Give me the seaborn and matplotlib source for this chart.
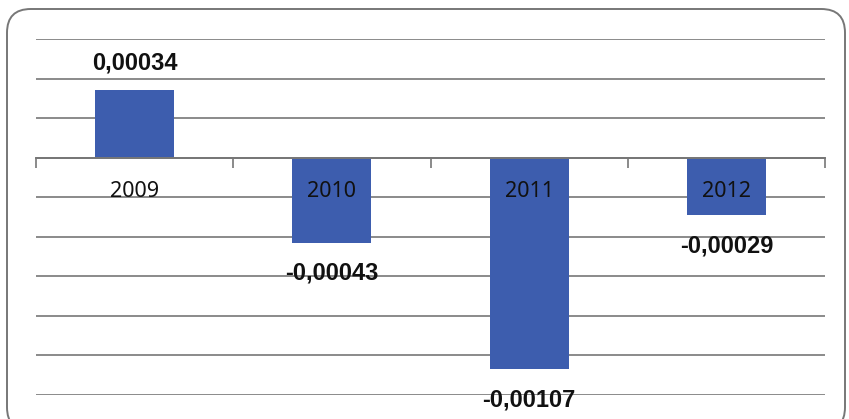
import numpy as np
import pandas as pd
import seaborn as sns
import matplotlib.pyplot as plt
from matplotlib.patches import FancyBboxPatch

# data
years = ["2009", "2010", "2011", "2012"]
values = [0.00034, -0.00043, -0.00107, -0.00029]
value_labels = ["0,00034", "-0,00043", "-0,00107", "-0,00029"]

sns.set_theme(style="white")
plt.rcParams['font.family'] = ['Noto Sans', 'DejaVu Sans']

df = pd.DataFrame({"year": years, "value": values})

fig = plt.figure(figsize=(8.49, 4.19), dpi=100)
ax = fig.add_axes([36/849, 1 - 395/419, (825 - 36)/849, (395 - 39)/419])

sns.barplot(data=df, x="year", y="value", color="#3D5DAE", width=0.4,
            saturation=1, linewidth=0, ax=ax, zorder=3)

ax.set_xlim(-0.5, 3.5)
ax.set_ylim(-0.0012, 0.0006)
ax.set_yticks(np.arange(-0.0012, 0.00061, 0.0002))
ax.yaxis.grid(True, color="#8a8a8a", linewidth=1.4)
ax.tick_params(axis="y", left=False, labelleft=False)
ax.set_xlabel("")
ax.set_ylabel("")
for s in ["top", "left", "right"]:
    ax.spines[s].set_visible(False)
ax.spines["bottom"].set_position(("data", 0))
ax.spines["bottom"].set_color("#777777")
ax.spines["bottom"].set_linewidth(1.4)
ax.spines["bottom"].set_zorder(4)

# ticks at category boundaries
ax.set_xticks(np.arange(-0.5, 3.6, 1.0))
ax.set_xticklabels([])
ax.tick_params(axis="x", which="major", direction="out", length=7, width=1.2,
               color="#777777", bottom=True)

# category labels sit just under the zero line, on top of the bars
for i, y in enumerate(years):
    ax.annotate(y, (i, 0), xytext=(0, -24), textcoords="offset points",
                ha="center", va="center", fontsize=15.5, color="#111111",
                zorder=5)

for i, (v, t) in enumerate(zip(values, value_labels)):
    off = 20 if v > 0 else -22
    ax.annotate(t, (i, v), xytext=(0, off), textcoords="offset points",
                ha="center", va="center", fontsize=17, fontweight="bold",
                family=["Liberation Sans", "DejaVu Sans"],
                color="#111111", zorder=5)

# rounded border around the chart
box = FancyBboxPatch((7/849, -12/419), (845 - 7)/849, (419 - 9 + 12)/419,
                     boxstyle="round,pad=0,rounding_size=0.028",
                     transform=fig.transFigure, fill=False,
                     edgecolor="#777777", linewidth=1.4, mutation_aspect=849/419)
fig.patches.append(box)

fig.savefig("out.png", dpi=100)
